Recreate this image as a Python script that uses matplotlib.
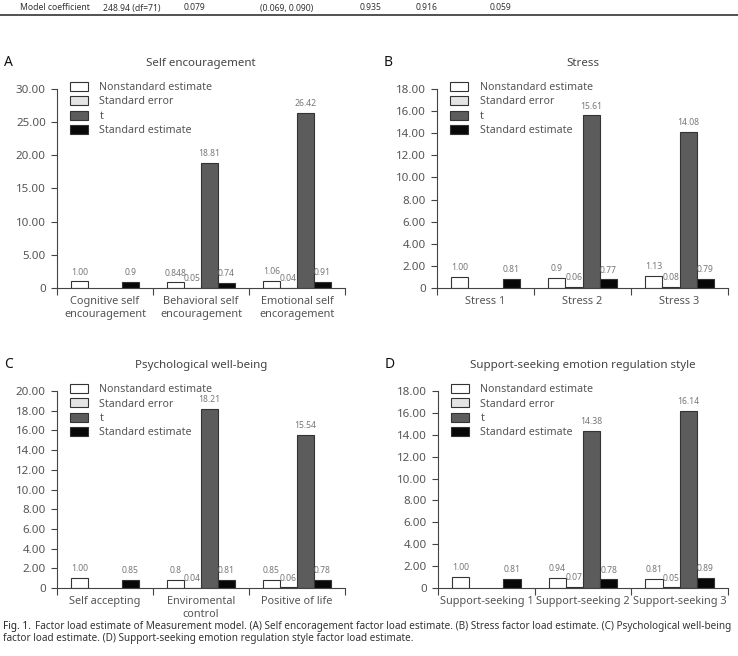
import matplotlib.pyplot as plt
import numpy as np
from matplotlib.lines import Line2D

plt.rcParams['font.family'] = ['Noto Sans', 'DejaVu Sans']

# ---- data ----
series_names = ['Nonstandard estimate', 'Standard error', 't', 'Standard estimate']

cats_a = ['Cognitive self\nencouragement', 'Behavioral self\nencouragement', 'Emotional self\nencoragement']
nonstd_a = [1.00, 0.848, 1.06]
se_a = [np.nan, 0.05, 0.04]
t_a = [np.nan, 18.81, 26.42]
std_a = [0.9, 0.74, 0.91]
lab_a = [['1.00', '0.848', '1.06'], ['', '0.05', '0.04'], ['', '18.81', '26.42'], ['0.9', '0.74', '0.91']]

cats_b = ['Stress 1', 'Stress 2', 'Stress 3']
nonstd_b = [1.00, 0.9, 1.13]
se_b = [np.nan, 0.06, 0.08]
t_b = [np.nan, 15.61, 14.08]
std_b = [0.81, 0.77, 0.79]
lab_b = [['1.00', '0.9', '1.13'], ['', '0.06', '0.08'], ['', '15.61', '14.08'], ['0.81', '0.77', '0.79']]

cats_c = ['Self accepting', 'Enviromental\ncontrol', 'Positive of life']
nonstd_c = [1.00, 0.8, 0.85]
se_c = [np.nan, 0.04, 0.06]
t_c = [np.nan, 18.21, 15.54]
std_c = [0.85, 0.81, 0.78]
lab_c = [['1.00', '0.8', '0.85'], ['', '0.04', '0.06'], ['', '18.21', '15.54'], ['0.85', '0.81', '0.78']]

cats_d = ['Support-seeking 1', 'Support-seeking 2', 'Support-seeking 3']
nonstd_d = [1.00, 0.94, 0.81]
se_d = [np.nan, 0.07, 0.05]
t_d = [np.nan, 14.38, 16.14]
std_d = [0.81, 0.78, 0.89]
lab_d = [['1.00', '0.94', '0.81'], ['', '0.07', '0.05'], ['', '14.38', '16.14'], ['0.81', '0.78', '0.89']]

table_row = ['Model coefficient', '248.94 (df=71)', '0.079', '(0.069, 0.090)', '0.935', '0.916', '0.059']
table_x = [20, 103, 184, 260, 360, 416, 490]

colors = ['white', '#e4e4e4', '#5c5c5c', '#080808']
txt = '#555555'

W, H = 738, 656
fig = plt.figure(figsize=(7.38, 6.56), dpi=100)


def px(x0, y0, x1, y1):
    return [x0 / W, 1 - y1 / H, (x1 - x0) / W, (y1 - y0) / H]


def panel(rect, letter, title, cats, vals, labels, ymax, step):
    ax = fig.add_axes(rect)
    x = np.arange(len(cats))
    w = 0.177
    for i, v in enumerate(vals):
        pos = x + (i - 1.5) * w
        ax.bar(pos, v, w, color=colors[i], edgecolor='#333333', linewidth=0.8,
               label=series_names[i])
        for p, val, s in zip(pos, v, labels[i]):
            if s:
                ax.annotate(s, (p, val), xytext=(0, 3.5), textcoords='offset points',
                            ha='center', va='bottom', fontsize=6.2, color='#777777')
    ax.set_xlim(-0.5, len(cats) - 0.5)
    ax.set_ylim(0, ymax)
    yt = np.arange(0, ymax + 0.01, step)
    ax.set_yticks(yt)
    ax.set_yticklabels(['0'] + ['%.2f' % t for t in yt[1:]])
    ax.set_xticks(np.arange(-0.5, len(cats), 1.0))
    ax.set_xticklabels([])
    ax.set_xticks(x, minor=True)
    ax.set_xticklabels(cats, minor=True)
    ax.tick_params(axis='x', which='minor', length=0, pad=6, labelsize=7.9, labelcolor=txt)
    ax.tick_params(axis='x', which='major', length=5, color='#444444')
    ax.tick_params(axis='y', length=4, labelsize=8.3, labelcolor=txt, color='#444444', pad=4)
    for s in ['top', 'right']:
        ax.spines[s].set_visible(False)
    for s in ['left', 'bottom']:
        ax.spines[s].set_color('#444444')
        ax.spines[s].set_linewidth(0.8)
    ax.legend(loc='upper left', bbox_to_anchor=(0.045, 1.035), frameon=False,
              fontsize=7.7, labelcolor=txt, handlelength=1.65, handleheight=0.9,
              labelspacing=0.3, handletextpad=1.1, borderaxespad=0, borderpad=0)
    ax.text(0.5, 1.13, title, transform=ax.transAxes, ha='center', va='center',
            fontsize=8.3, color='#444444')
    fig.text(rect[0] - 53 / W, rect[1] + rect[3] + 27 / H, letter, fontsize=10,
             fontweight='bold', va='center', ha='left', color='#111111')
    return ax


panel(px(57, 89, 345, 288), 'A', 'Self encouragement', cats_a,
      [nonstd_a, se_a, t_a, std_a], lab_a, 30, 5)
panel(px(437, 89, 728, 288), 'B', 'Stress', cats_b,
      [nonstd_b, se_b, t_b, std_b], lab_b, 18, 2)
panel(px(57, 391, 345, 588), 'C', 'Psychological well-being', cats_c,
      [nonstd_c, se_c, t_c, std_c], lab_c, 20, 2)
panel(px(438, 391, 728, 588), 'D', 'Support-seeking emotion regulation style', cats_d,
      [nonstd_d, se_d, t_d, std_d], lab_d, 18, 2)

# table remnant at top
for s, xx in zip(table_row, table_x):
    fig.text(xx / W, 1 - 8 / H, s, fontsize=6.2, color='#333333', va='center', ha='left',
             family=['Liberation Sans Narrow', 'Noto Sans'])
fig.add_artist(Line2D([0, 1], [1 - 15 / H, 1 - 15 / H], color='#333333', linewidth=1.2))

# caption
cap_y1 = 1 - 627 / H
cap_y2 = 1 - 639 / H
t0 = fig.text(3 / W, cap_y1, 'Fig. 1.', fontsize=7.2, fontweight='bold', color='#222222', va='center')
r = fig.canvas.get_renderer()
x_next = (t0.get_window_extent(r).x1 + 4) / W
fig.text(x_next, cap_y1,
         'Factor load estimate of Measurement model. (A) Self encoragement factor load estimate. '
         '(B) Stress factor load estimate. (C) Psychological well-being',
         fontsize=7.2, color='#333333', va='center')
fig.text(3 / W, cap_y2,
         'factor load estimate. (D) Support-seeking emotion regulation style factor load estimate.',
         fontsize=7.2, color='#333333', va='center')

fig.savefig('out.png', dpi=100)
